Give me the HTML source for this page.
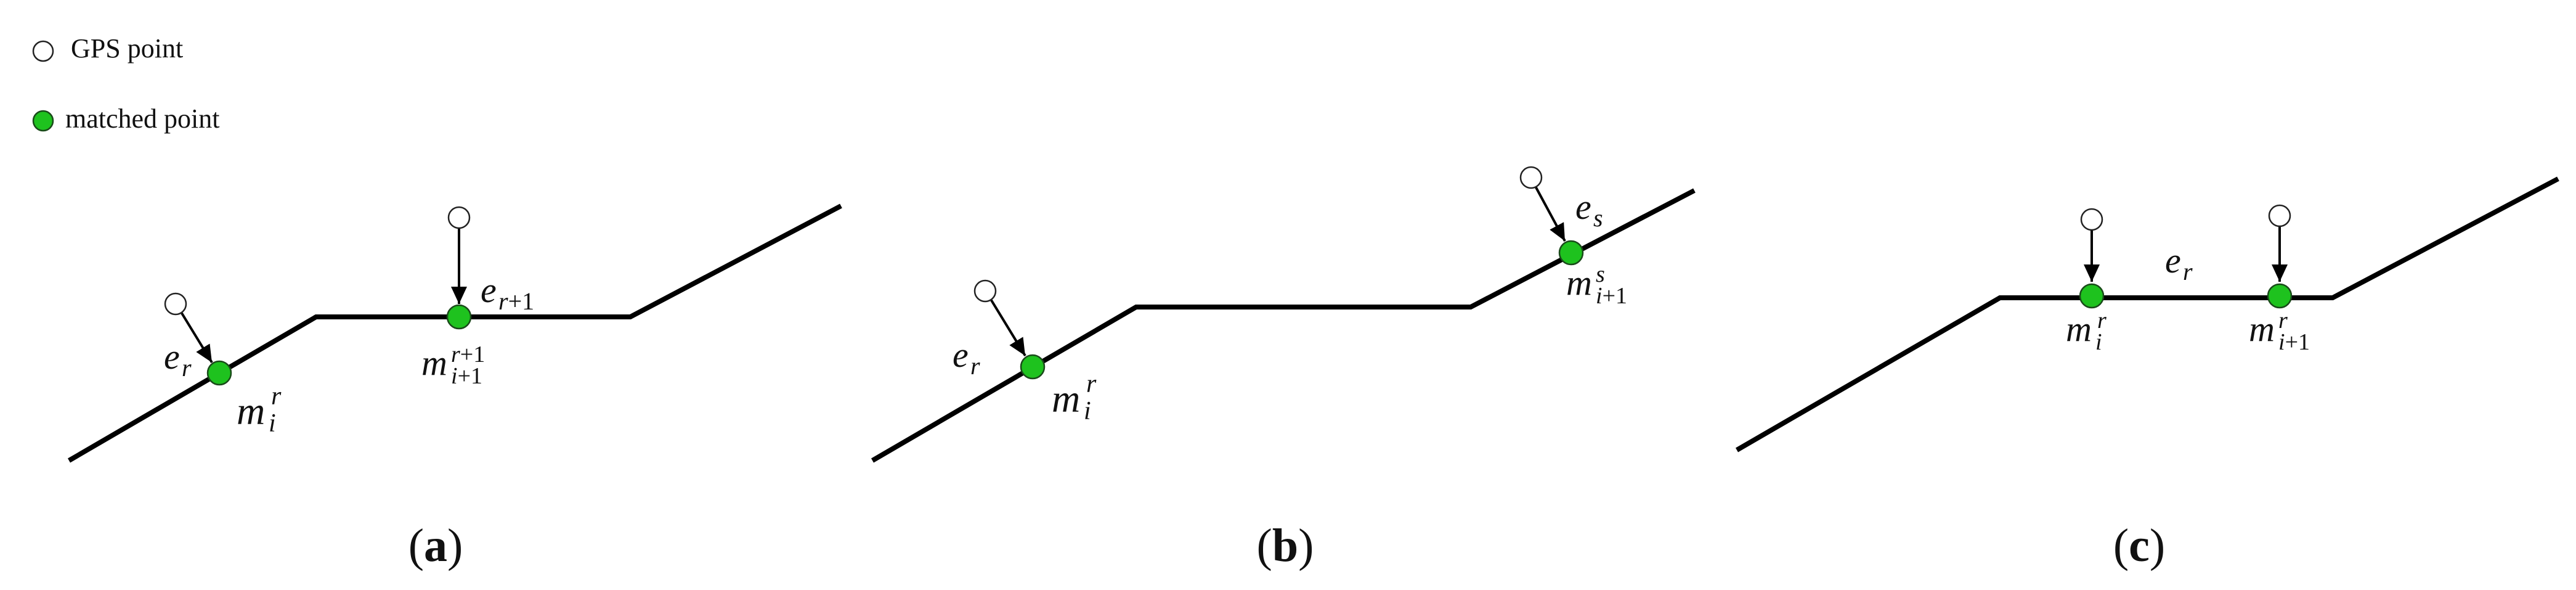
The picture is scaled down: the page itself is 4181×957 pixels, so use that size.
<!DOCTYPE html>
<html><head><meta charset="utf-8"><style>
html,body{margin:0;padding:0;background:#fff}
svg{display:block}
.t{font-family:"Liberation Serif",serif;fill:#111}
.m{font-family:"Liberation Serif",serif;font-style:italic;fill:#111}
</style></head><body>
<svg width="4181" height="957" viewBox="0 0 4181 957" xmlns="http://www.w3.org/2000/svg">
<defs>
<marker id="ah" markerUnits="userSpaceOnUse" markerWidth="30" markerHeight="26" refX="28" refY="13" orient="auto">
<path d="M0,0 L28,13 L0,26 z" fill="#000"/>
</marker>
</defs>
<!-- legend -->
<circle cx="70" cy="83" r="16" fill="#fff" stroke="#222" stroke-width="2.5"/>
<text class="t" x="115" y="93" font-size="44">GPS point</text>
<circle cx="70" cy="196" r="16" fill="#1ec21e" stroke="#1a4a1a" stroke-width="2.5"/>
<text class="t" x="106" y="207" font-size="44">matched point</text>

<g fill="none" stroke="#000" stroke-width="8" stroke-linejoin="miter">
<polyline points="112,747 513,514 1023,514 1365,334"/>
<polyline points="1416,747 1844,498 2387,498 2750,309"/>
<polyline points="2819,730 3246,483 3786,483 4152,290"/>
</g>
<g stroke="#000" stroke-width="4" marker-end="url(#ah)">
<line x1="295" y1="508" x2="344" y2="588"/>
<line x1="745" y1="371" x2="745" y2="493"/>
<line x1="1609" y1="487" x2="1664" y2="577"/>
<line x1="2493" y1="304" x2="2540" y2="391"/>
<line x1="3395" y1="374" x2="3395" y2="457"/>
<line x1="3700" y1="368" x2="3700" y2="457"/>
</g>
<g fill="#fff" stroke="#222" stroke-width="2.5">
<circle cx="285" cy="493" r="17"/>
<circle cx="745" cy="353" r="17"/>
<circle cx="1599" cy="472" r="17"/>
<circle cx="2485" cy="288" r="17"/>
<circle cx="3395" cy="356" r="17"/>
<circle cx="3700" cy="350" r="17"/>
</g>
<g fill="#1ec21e" stroke="#1a4a1a" stroke-width="2.5">
<circle cx="356" cy="605" r="19"/>
<circle cx="745" cy="514" r="19"/>
<circle cx="1676" cy="595" r="19"/>
<circle cx="2550" cy="410" r="19"/>
<circle cx="3395" cy="480" r="19"/>
<circle cx="3700" cy="480" r="19"/>
</g>

<!-- panel a labels -->
<text class="m" x="266" y="598" font-size="58">e</text>
<text class="m" x="295" y="610" font-size="40">r</text>
<text class="m" x="780" y="490" font-size="58">e</text>
<text class="m" x="809" y="502" font-size="40">r<tspan font-style="normal">+1</tspan></text>
<text class="m" x="384" y="688" font-size="64">m</text>
<text class="m" x="436" y="700" font-size="42">i</text>
<text class="m" x="440" y="656" font-size="42">r</text>
<text class="m" x="684" y="608" font-size="58">m</text>
<text class="m" x="732" y="587" font-size="38">r<tspan font-style="normal">+1</tspan></text>
<text class="m" x="732" y="622" font-size="38">i<tspan font-style="normal">+1</tspan></text>
<text class="t" x="707" y="910" font-size="76" text-anchor="middle">(<tspan font-weight="bold">a</tspan>)</text>

<!-- panel b labels -->
<text class="m" x="1546" y="595" font-size="58">e</text>
<text class="m" x="1575" y="607" font-size="40">r</text>
<text class="m" x="2557" y="355" font-size="58">e</text>
<text class="m" x="2586" y="367" font-size="40">s</text>
<text class="m" x="1707" y="668" font-size="64">m</text>
<text class="m" x="1759" y="680" font-size="42">i</text>
<text class="m" x="1763" y="636" font-size="42">r</text>
<text class="m" x="2542" y="478" font-size="58">m</text>
<text class="m" x="2590" y="457" font-size="38">s</text>
<text class="m" x="2590" y="492" font-size="38">i<tspan font-style="normal">+1</tspan></text>
<text class="t" x="2086" y="910" font-size="76" text-anchor="middle">(<tspan font-weight="bold">b</tspan>)</text>

<!-- panel c labels -->
<text class="m" x="3514" y="442" font-size="58">e</text>
<text class="m" x="3543" y="454" font-size="40">r</text>
<text class="m" x="3353" y="553" font-size="58">m</text>
<text class="m" x="3401" y="567" font-size="38">i</text>
<text class="m" x="3404" y="532" font-size="38">r</text>
<text class="m" x="3650" y="553" font-size="58">m</text>
<text class="m" x="3698" y="532" font-size="38">r</text>
<text class="m" x="3698" y="567" font-size="38">i<tspan font-style="normal">+1</tspan></text>
<text class="t" x="3472" y="910" font-size="76" text-anchor="middle">(<tspan font-weight="bold">c</tspan>)</text>
</svg>
</body></html>
